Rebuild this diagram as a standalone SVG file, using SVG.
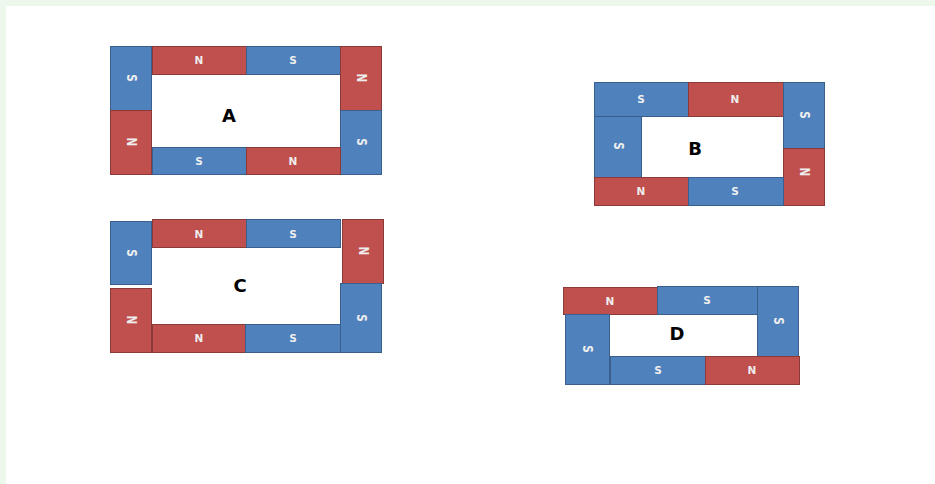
<svg xmlns="http://www.w3.org/2000/svg" width="935" height="484" viewBox="0 0 935 484">
<style>
.n{fill:#c0504d;stroke:#8c3a38;stroke-width:1}
.s{fill:#4f81bd;stroke:#3a5f8c;stroke-width:1}
.t{font-family:"DejaVu Sans","Liberation Sans",sans-serif;font-size:10.5px;font-weight:bold;fill:#eeeeee;text-anchor:middle;dominant-baseline:central}
.lbl{font-family:"DejaVu Sans","Liberation Sans",sans-serif;font-size:18px;font-weight:bold;fill:#000000;text-anchor:middle;dominant-baseline:central}
</style>
<rect x="0" y="0" width="935" height="484" fill="#ecf8ec"/>
<rect x="6" y="6" width="929" height="478" fill="#ffffff"/>
<g id="connectors"/>
<g id="A">
<rect class="s" x="110.5" y="46.5" width="41" height="64"/>
<rect class="n" x="110.5" y="110.5" width="41" height="64"/>
<rect class="n" x="152.5" y="46.5" width="94" height="28"/>
<rect class="s" x="246.5" y="46.5" width="94" height="28"/>
<rect class="n" x="340.5" y="46.5" width="41" height="64"/>
<rect class="s" x="340.5" y="110.5" width="41" height="64"/>
<rect class="s" x="152.5" y="147.5" width="94" height="27"/>
<rect class="n" x="246.5" y="147.5" width="94" height="27"/>
<text class="t" transform="translate(131,78) scale(1.3,1) rotate(90)">S</text>
<text class="t" transform="translate(131,142) scale(1.3,1) rotate(90)">N</text>
<text class="t" x="199" y="60">N</text>
<text class="t" x="293" y="60">S</text>
<text class="t" transform="translate(361,78) scale(1.3,1) rotate(90)">N</text>
<text class="t" transform="translate(361,142) scale(1.3,1) rotate(90)">S</text>
<text class="t" x="199" y="161">S</text>
<text class="t" x="293" y="161">N</text>
<text class="lbl" x="229" y="115">A</text>
</g>
<g id="C">
<rect class="s" x="110.5" y="221.5" width="41" height="63"/>
<rect class="n" x="110.5" y="288.5" width="41" height="64"/>
<rect class="n" x="152.5" y="219.5" width="94" height="28"/>
<rect class="s" x="246.5" y="219.5" width="94" height="28"/>
<rect class="n" x="342.5" y="219.5" width="41" height="64"/>
<rect class="s" x="340.5" y="283.5" width="41" height="69"/>
<rect class="n" x="152.5" y="324.5" width="93" height="28"/>
<rect class="s" x="245.5" y="324.5" width="95" height="28"/>
<text class="t" transform="translate(131,253) scale(1.3,1) rotate(90)">S</text>
<text class="t" transform="translate(131,320) scale(1.3,1) rotate(90)">N</text>
<text class="t" x="199" y="234">N</text>
<text class="t" x="293" y="234">S</text>
<text class="t" transform="translate(363,251) scale(1.3,1) rotate(90)">N</text>
<text class="t" transform="translate(361,318) scale(1.3,1) rotate(90)">S</text>
<text class="t" x="199" y="338">N</text>
<text class="t" x="293" y="338">S</text>
<text class="lbl" x="240" y="285">C</text>
</g>
<g id="B">
<rect class="s" x="594.5" y="82.5" width="94" height="34"/>
<rect class="n" x="688.5" y="82.5" width="95" height="34"/>
<rect class="s" x="783.5" y="82.5" width="41" height="66"/>
<rect class="n" x="783.5" y="148.5" width="41" height="57"/>
<rect class="s" x="594.5" y="116.5" width="47" height="61"/>
<rect class="n" x="594.5" y="177.5" width="94" height="28"/>
<rect class="s" x="688.5" y="177.5" width="95" height="28"/>
<text class="t" x="641" y="99">S</text>
<text class="t" x="735" y="99">N</text>
<text class="t" transform="translate(804,115) scale(1.3,1) rotate(90)">S</text>
<text class="t" transform="translate(804,172) scale(1.3,1) rotate(90)">N</text>
<text class="t" transform="translate(618,146) scale(1.3,1) rotate(90)">S</text>
<text class="t" x="641" y="191">N</text>
<text class="t" x="735" y="191">S</text>
<text class="lbl" x="695" y="148">B</text>
</g>
<g id="D">
<rect class="n" x="563.5" y="287.5" width="94" height="27"/>
<rect class="s" x="657.5" y="286.5" width="100" height="28"/>
<rect class="s" x="757.5" y="286.5" width="41" height="70"/>
<rect class="s" x="565.5" y="314.5" width="44" height="70"/>
<rect class="s" x="610.5" y="356.5" width="95" height="28"/>
<rect class="n" x="705.5" y="356.5" width="94" height="28"/>
<text class="t" x="610" y="301">N</text>
<text class="t" x="707" y="300">S</text>
<text class="t" transform="translate(778,321) scale(1.3,1) rotate(90)">S</text>
<text class="t" transform="translate(587,349) scale(1.3,1) rotate(90)">S</text>
<text class="t" x="658" y="370">S</text>
<text class="t" x="752" y="370">N</text>
<text class="lbl" x="677" y="333">D</text>
</g>
</svg>
